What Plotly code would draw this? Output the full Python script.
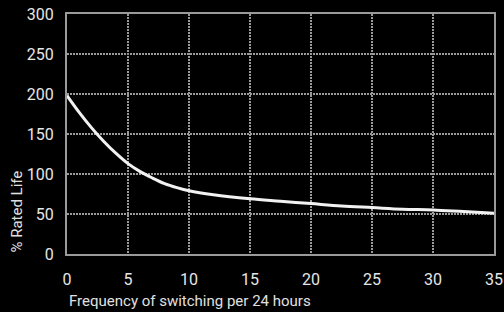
import plotly.graph_objects as go

switch_freq = [0, 1, 2, 3, 4, 5, 6, 7, 8, 9, 10, 12, 15, 17.5, 20, 22.5, 25, 27.5, 30, 32.5, 35]
rated_life = [198, 177, 158, 141, 126, 113, 103, 95, 88, 83, 79, 74, 69, 66, 63, 60, 58, 56, 55, 53, 51]

x_ticks = [0, 5, 10, 15, 20, 25, 30, 35]
y_ticks = [0, 50, 100, 150, 200, 250, 300]

FONT = "Roboto, Arial"
GRID = "#9a9a9a"

fig = go.Figure()
fig.add_trace(go.Scatter(
    x=switch_freq, y=rated_life, mode="lines",
    line=dict(color="#f2f2f2", width=3, shape="spline"),
    hoverinfo="skip", showlegend=False,
))

axis_common = dict(
    showgrid=True, gridcolor=GRID, gridwidth=2, griddash="2px,1px",
    zeroline=False, showline=True, linecolor=GRID, linewidth=2, mirror=True,
    ticks="", fixedrange=True, automargin=False,
    tickfont=dict(family=FONT, size=16, color="#e6e6e6"),
)

fig.update_layout(
    width=504, height=312,
    paper_bgcolor="black", plot_bgcolor="black",
    margin=dict(l=67, r=10, t=14, b=58),
    font=dict(family=FONT, color="#e6e6e6", size=15),
    xaxis=dict(range=[0, 35], tickvals=x_ticks, ticktext=[str(v) for v in x_ticks],
               ticklabelstandoff=10, **axis_common),
    yaxis=dict(range=[0, 300], tickvals=y_ticks, ticktext=[str(v) for v in y_ticks],
               ticklabelstandoff=8, **axis_common),
    annotations=[
        dict(text="Frequency of switching per 24 hours", xref="paper", yref="paper",
             x=0, y=-0.15, xanchor="left", yanchor="top", showarrow=False,
             font=dict(family=FONT, size=15, color="#e0e0e0")),
        dict(text="% Rated Life", xref="paper", yref="paper",
             x=-0.118, y=-0.004, xanchor="center", yanchor="bottom", textangle=-90,
             showarrow=False, font=dict(family=FONT, size=15, color="#e0e0e0")),
    ],
)

fig.write_html(
    "out.html",
    config={"displayModeBar": False, "staticPlot": True},
    post_script="document.body.style.margin='0';document.body.style.background='black';",
)
